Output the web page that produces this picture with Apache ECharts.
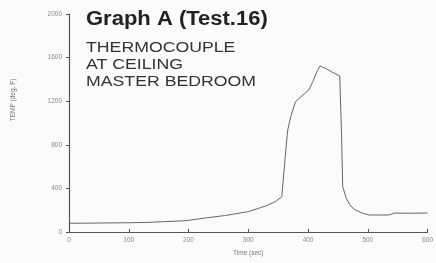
<!DOCTYPE html>
<html>
<head>
<meta charset="utf-8">
<script src="https://cdn.jsdelivr.net/npm/echarts@6/dist/echarts.min.js"></script>
<style>
  html, body { margin: 0; padding: 0; background: #fcfbfc; }
  #chart { width: 436px; height: 263px; }
</style>
</head>
<body>
<div id="chart"></div>
<script>
// time (sec) and ceiling thermocouple temperature (deg F)
var timeSec = [0, 50, 100, 130, 160, 196, 230, 260, 300, 330, 345, 356, 362, 366, 371, 379, 390, 396, 401, 408, 414, 420, 430, 439, 453, 456, 458, 464, 470, 477, 490, 502, 520, 535, 545, 570, 600]
var tempF = [80, 82, 85, 88, 95, 104, 130, 150, 187, 240, 278, 324, 700, 936, 1058, 1196, 1250, 1278, 1303, 1379, 1460, 1523, 1500, 1471, 1431, 900, 416, 309, 250, 208, 175, 156, 156, 156, 174, 172, 174]
var titleLines = ['THERMOCOUPLE', 'AT CEILING', 'MASTER BEDROOM']

var points = timeSec.map(function (t, i) { return [t, tempF[i]] })

var chart = echarts.init(document.getElementById('chart'))

var labelFont = {
  fontSize: 6.5, color: '#888', fontFamily: 'Liberation Sans',
  formatter: function (v) { return String(v) }
}

chart.setOption({
  backgroundColor: '#fcfbfc',
  animation: false,
  grid: { left: 69, right: 1, top: 14, bottom: 31 },
  xAxis: {
    type: 'value', min: 0, max: 600, interval: 100,
    name: 'Time (sec)', nameLocation: 'middle', nameGap: 18,
    nameTextStyle: { fontSize: 6.5, color: '#777', fontFamily: 'Liberation Sans' },
    axisLine: { lineStyle: { color: '#555', width: 1.2 } },
    axisTick: { inside: true, length: 3, lineStyle: { color: '#555' } },
    axisLabel: Object.assign({ margin: 5 }, labelFont),
    splitLine: { show: false }
  },
  yAxis: {
    type: 'value', min: 0, max: 2000, interval: 400,
    name: 'TEMP (deg. F)', nameLocation: 'middle', nameGap: 52, nameRotate: 90,
    nameTextStyle: { fontSize: 6.5, color: '#777', fontFamily: 'Liberation Sans', padding: [0, 0, 0, 46] },
    axisLine: { show: true, lineStyle: { color: '#555', width: 1.2 } },
    axisTick: { show: true, length: 3, lineStyle: { color: '#555' } },
    axisLabel: Object.assign({ margin: 7 }, labelFont),
    splitLine: { show: false }
  },
  graphic: [
    {
      type: 'text', left: 86, top: 9, scaleX: 1.1,
      style: { text: 'Graph A (Test.16)', fontSize: 20, fontWeight: 'bold', fill: '#222', fontFamily: 'Liberation Sans' }
    }
  ].concat(titleLines.map(function (s, i) {
    return {
      type: 'text', left: 86, top: 40 + i * 17, scaleX: 1.22,
      style: { text: s, fontSize: 14.5, fill: '#333', fontFamily: 'Liberation Sans' }
    }
  })),
  series: [{
    type: 'line',
    data: points,
    symbol: 'none',
    lineStyle: { color: '#666', width: 1 }
  }]
})
</script>
</body>
</html>
